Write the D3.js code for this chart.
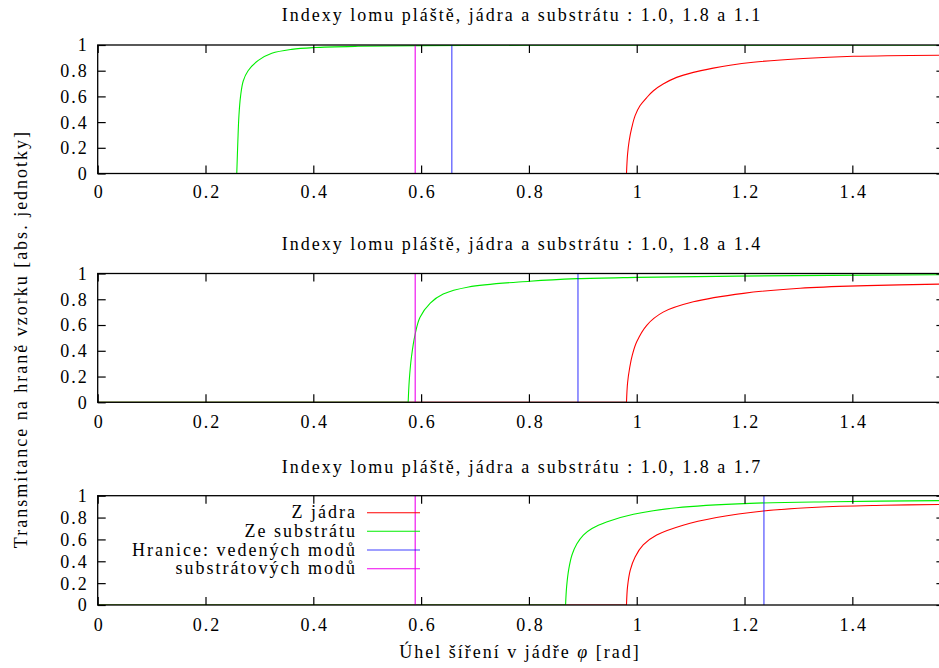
<!DOCTYPE html>
<html>
<head>
<meta charset="utf-8">
<script src="https://cdn.jsdelivr.net/npm/d3@7"></script>
<style>
  body { margin: 0; background: #fff; }
  svg { display: block; font-family: "Liberation Serif", "DejaVu Serif", serif; }
  text { letter-spacing: 2px; }
</style>
</head>
<body>
<svg id="chart" width="939" height="668"></svg>
<script>
// titles of the three panels
var panelTitles = [
    "Indexy lomu pláště, jádra a substrátu : 1.0, 1.8 a 1.1",
    "Indexy lomu pláště, jádra a substrátu : 1.0, 1.8 a 1.4",
    "Indexy lomu pláště, jádra a substrátu : 1.0, 1.8 a 1.7"
];

var xTicks = [0, 0.2, 0.4, 0.6, 0.8, 1, 1.2, 1.4];
var xTickLabels = ["0", "0.2", "0.4", "0.6", "0.8", "1", "1.2", "1.4"];
var yTicks = [0, 0.2, 0.4, 0.6, 0.8, 1];
var yTickLabels = ["0", "0.2", "0.4", "0.6", "0.8", "1"];

var legendLabels = ["Z jádra", "Ze substrátu", "Hranice: vedených modů", "substrátových modů"];

// "Z jádra" (red): [angle, transmittance]
var core1 = [[0, 0], [0.981, 0], [0.983, 0.15], [0.986, 0.255], [0.991, 0.36], [0.997, 0.45],
    [1.006, 0.527], [1.019, 0.593], [1.031, 0.644], [1.049, 0.696], [1.074, 0.748], [1.105, 0.787],
    [1.142, 0.82], [1.173, 0.843], [1.216, 0.866], [1.309, 0.895], [1.402, 0.912], [1.5708, 0.921]];
var core2 = [[0, 0], [0.981, 0], [0.983, 0.15], [0.987, 0.27], [0.992, 0.37], [1.0, 0.47],
    [1.019, 0.60], [1.049, 0.70], [1.105, 0.78], [1.198, 0.846], [1.303, 0.886], [1.427, 0.906],
    [1.5708, 0.918]];
var core3 = [[0, 0], [0.981, 0], [0.983, 0.17], [0.988, 0.32], [0.997, 0.44], [1.012, 0.55],
    [1.037, 0.64], [1.086, 0.73], [1.148, 0.80], [1.235, 0.86], [1.334, 0.895], [1.458, 0.912],
    [1.5708, 0.92]];

// "Ze substrátu" (green)
var subst1 = [[0, 0], [0.258, 0], [0.260, 0.25], [0.262, 0.45], [0.265, 0.60], [0.270, 0.72],
    [0.279, 0.80], [0.298, 0.88], [0.323, 0.935], [0.360, 0.966], [0.400, 0.98], [0.483, 0.99],
    [0.6, 0.995], [0.8, 0.998], [1.2, 0.999], [1.5708, 1.0]];
var subst2 = [[0, 0], [0.576, 0], [0.578, 0.17], [0.582, 0.35], [0.589, 0.53], [0.598, 0.66],
    [0.617, 0.77], [0.641, 0.84], [0.688, 0.895], [0.802, 0.94], [0.889, 0.96], [1.0, 0.97],
    [1.186, 0.98], [1.5708, 0.99]];
var subst3 = [[0, 0], [0.868, 0], [0.870, 0.17], [0.874, 0.33], [0.880, 0.46], [0.889, 0.56],
    [0.901, 0.64], [0.917, 0.70], [0.944, 0.76], [0.994, 0.83], [1.074, 0.89], [1.210, 0.93],
    [1.365, 0.945], [1.5708, 0.955]];

// boundaries (vertical lines)
var guidedBoundary = [0.657, 0.891, 1.236];
var substrateBoundary = [0.589, 0.589, 0.589];

var coreSeries = [core1, core2, core3];
var substSeries = [subst1, subst2, subst3];

var colors = ["#ff0000", "#00ee00", "#0000ff", "#ee00ee"];

// layout of the panels (plot area boxes)
var left = 97.7, right = 944.4;
var panels = [
    {top: 45, bottom: 173.5, titleY: 21, labelY: 198},
    {top: 273.5, bottom: 402.3, titleY: 250, labelY: 428},
    {top: 495.7, bottom: 605, titleY: 472.5, labelY: 631}
];
var fontSize = "18px";

var svg = d3.select("#chart");

var xScale = d3.scaleLinear().domain([0, Math.PI / 2]).range([left, right]);

svg.append("defs").selectAll("clipPath")
    .data(panels)
    .enter()
    .append("clipPath")
        .attr("id", function(d, i) { return "clip" + i; })
    .append("rect")
        .attr("x", left)
        .attr("y", function(d) { return d.top; })
        .attr("width", right - left)
        .attr("height", function(d) { return d.bottom - d.top; });

panels.forEach(function(p, i) {
    var yScale = d3.scaleLinear().domain([0, 1]).range([p.bottom, p.top]);
    var g = svg.append("g");

    // title
    g.append("text")
        .attr("x", (left + right) / 2 + 1)
        .attr("y", p.titleY)
        .attr("text-anchor", "middle")
        .style("font-size", fontSize)
        .text(panelTitles[i]);

    var plot = g.append("g").attr("clip-path", "url(#clip" + i + ")");

    var line = d3.line()
        .x(function(d) { return xScale(d[0]); })
        .y(function(d) { return yScale(d[1]); })
        .curve(d3.curveCatmullRom.alpha(0.5));

    // curves: flat part straight, rising part smooth
    [coreSeries[i], substSeries[i]].forEach(function(series, k) {
        plot.append("path")
            .attr("d", d3.line()
                .x(function(d) { return xScale(d[0]); })
                .y(function(d) { return yScale(d[1]); })(series.slice(0, 2)))
            .attr("fill", "none")
            .attr("stroke", colors[k])
            .attr("stroke-width", 1.1);
        plot.append("path")
            .attr("d", line(series.slice(1)))
            .attr("fill", "none")
            .attr("stroke", colors[k])
            .attr("stroke-width", 1.1);
    });

    // boundaries
    plot.append("line")
        .attr("x1", xScale(guidedBoundary[i]))
        .attr("x2", xScale(guidedBoundary[i]))
        .attr("y1", yScale(0))
        .attr("y2", yScale(1))
        .attr("stroke", colors[2])
        .attr("stroke-opacity", 0.75)
        .attr("stroke-width", 1.1);
    plot.append("line")
        .attr("x1", xScale(substrateBoundary[i]))
        .attr("x2", xScale(substrateBoundary[i]))
        .attr("y1", yScale(0))
        .attr("y2", yScale(1))
        .attr("stroke", colors[3])
        .attr("stroke-width", 1.1);

    // axes, ticks pointing inwards on all four sides
    var bottomAxis = g.append("g")
        .attr("transform", "translate(0," + p.bottom + ")")
        .call(d3.axisBottom(xScale).tickValues(xTicks).tickSizeInner(-8).tickSizeOuter(0)
            .tickFormat(function(d, j) { return xTickLabels[j]; }));
    bottomAxis.selectAll("text")
        .attr("x", 1)
        .attr("y", p.labelY - p.bottom)
        .attr("dy", 0);
    g.append("g")
        .attr("transform", "translate(0," + p.top + ")")
        .call(d3.axisTop(xScale).tickValues(xTicks).tickSizeInner(-8).tickSizeOuter(0).tickFormat(""));
    var leftAxis = g.append("g")
        .attr("transform", "translate(" + left + ",0)")
        .call(d3.axisLeft(yScale).tickValues(yTicks).tickSizeInner(-8).tickSizeOuter(0)
            .tickFormat(function(d, j) { return yTickLabels[j]; }));
    leftAxis.selectAll("text")
        .attr("x", -9)
        .attr("dy", "0.33em");
    g.append("g")
        .attr("transform", "translate(" + right + ",0)")
        .call(d3.axisRight(yScale).tickValues(yTicks).tickSizeInner(-8).tickSizeOuter(0).tickFormat(""));

    g.selectAll(".domain").remove();
    g.selectAll(".tick line").attr("stroke", "#000").attr("stroke-width", 1.2);
    g.selectAll(".tick text")
        .attr("fill", "#000")
        .style("font-size", fontSize)
        .style("font-family", "'Liberation Serif', serif");

    // border
    g.append("rect")
        .attr("x", left)
        .attr("y", p.top)
        .attr("width", right - left)
        .attr("height", p.bottom - p.top)
        .attr("fill", "none")
        .attr("stroke", "#000")
        .attr("stroke-width", 1.3);
});

// legend in the last panel
var legendY = [512.7, 531.3, 550, 568.7];
var legend = svg.append("g").selectAll("g")
    .data(legendLabels)
    .enter()
    .append("g");
legend.append("text")
    .attr("x", 357)
    .attr("y", function(d, i) { return legendY[i] + 5.5; })
    .attr("text-anchor", "end")
    .style("font-size", fontSize)
    .text(function(d) { return d; });
legend.append("line")
    .attr("x1", 367)
    .attr("x2", 420)
    .attr("y1", function(d, i) { return legendY[i]; })
    .attr("y2", function(d, i) { return legendY[i]; })
    .attr("stroke", function(d, i) { return colors[i]; })
    .attr("stroke-opacity", function(d, i) { return i == 2 ? 0.75 : 1; })
    .attr("stroke-width", 1.1);

// axis titles
var xTitle = svg.append("text")
    .attr("x", (left + right) / 2 - 1)
    .attr("y", 657.5)
    .attr("text-anchor", "middle")
    .style("font-size", fontSize);
xTitle.append("tspan").text("Úhel šíření v jádře ");
xTitle.append("tspan").style("font-style", "italic").text("φ");
xTitle.append("tspan").text(" [rad]");

svg.append("text")
    .attr("transform", "translate(26.5,339) rotate(-90)")
    .attr("text-anchor", "middle")
    .style("font-size", fontSize)
    .text("Transmitance na hraně vzorku [abs. jednotky]");
</script>
</body>
</html>
